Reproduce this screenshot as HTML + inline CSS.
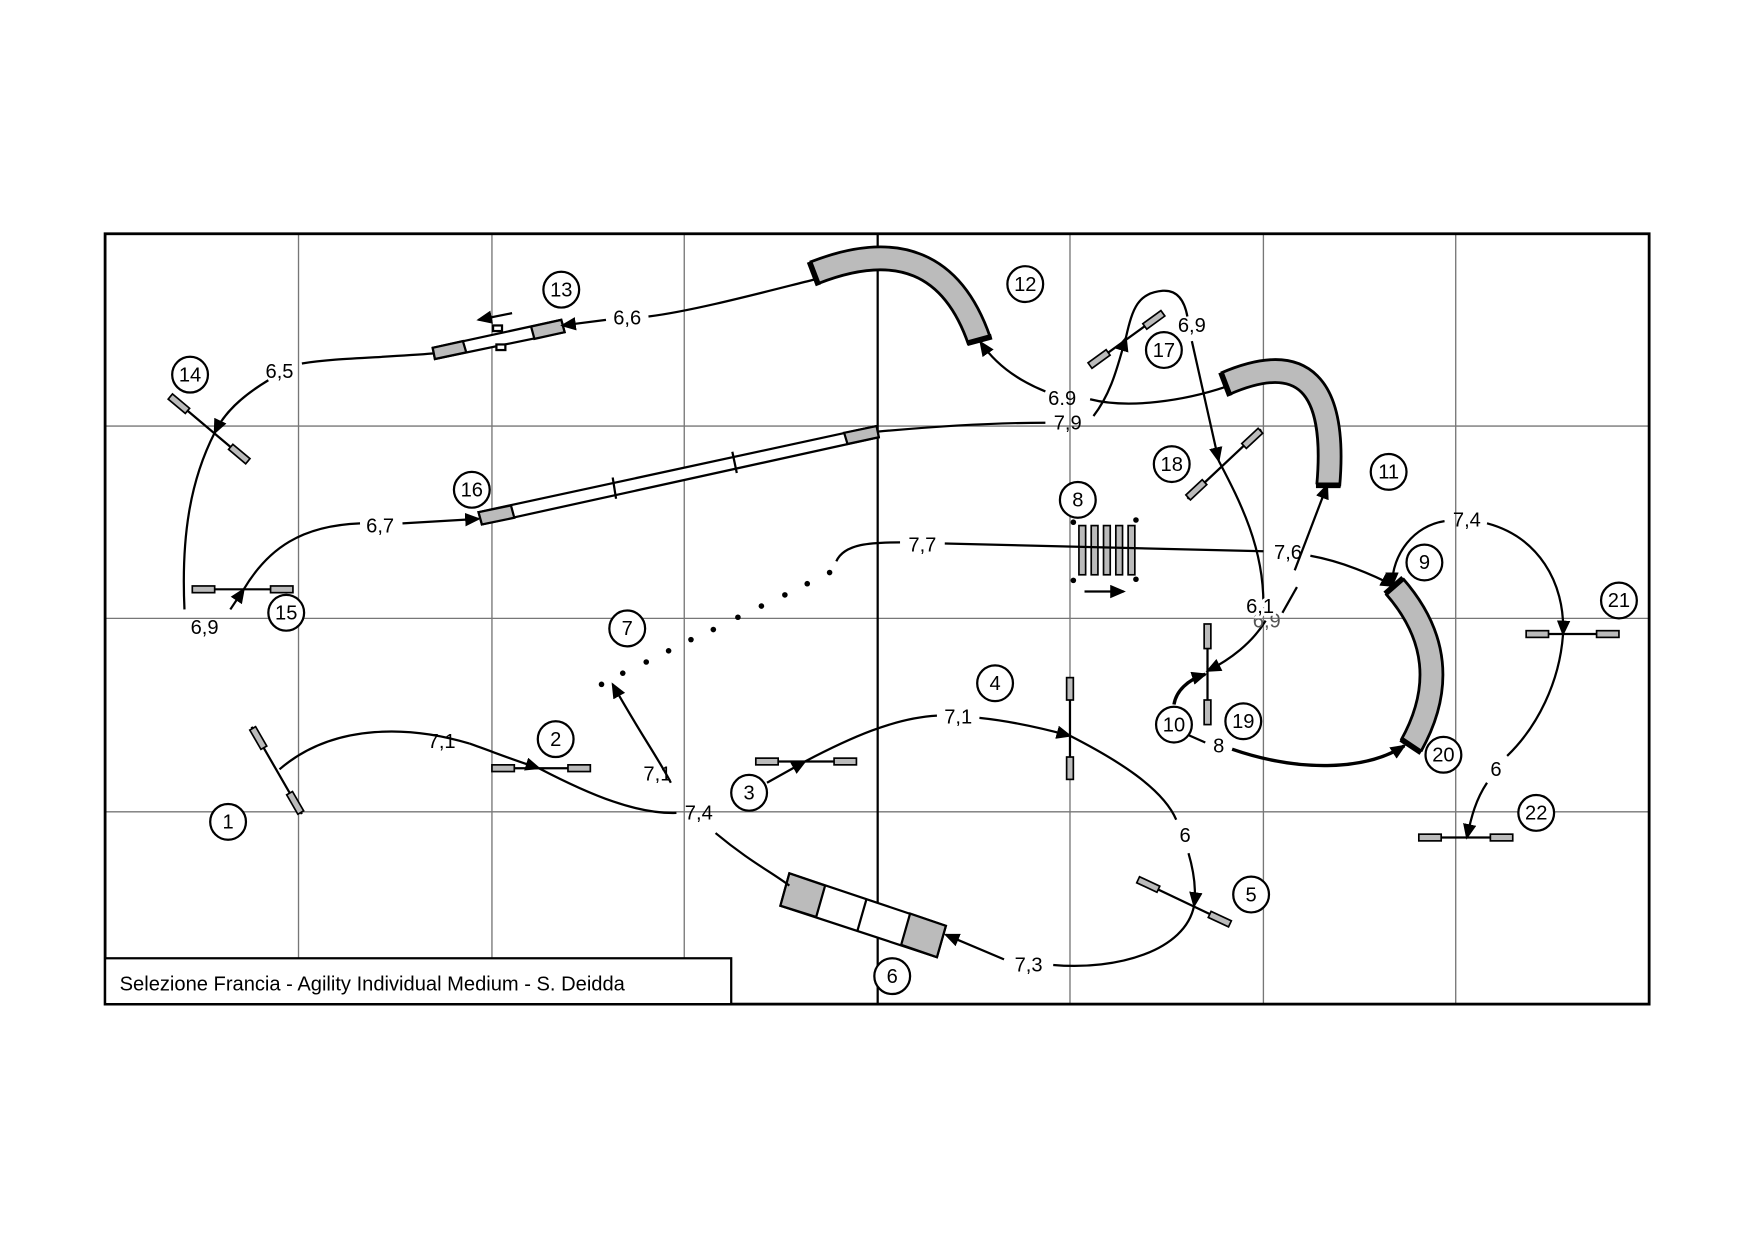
<!DOCTYPE html>
<html><head><meta charset="utf-8"><style>html,body{margin:0;padding:0;background:#fff}svg{display:block}</style></head><body>
<svg width="1752" height="1239" viewBox="0 0 1567 1108" xmlns="http://www.w3.org/2000/svg" font-family="Liberation Sans, sans-serif">
<defs>
<marker id="a" markerUnits="userSpaceOnUse" markerWidth="14" markerHeight="12" refX="12" refY="6" orient="auto"><path d="M0,0 L14,6 L0,12 z" fill="#000"/></marker>
</defs>
<rect width="1567" height="1108" fill="#fff"/>
<g stroke="#777" stroke-width="1.2">
<line x1="267" y1="209" x2="267" y2="898"/><line x1="440" y1="209" x2="440" y2="898"/><line x1="612" y1="209" x2="612" y2="898"/>
<line x1="957" y1="209" x2="957" y2="898"/><line x1="1130" y1="209" x2="1130" y2="898"/><line x1="1302" y1="209" x2="1302" y2="898"/>
<line x1="94" y1="381" x2="1475" y2="381"/><line x1="94" y1="553" x2="1475" y2="553"/><line x1="94" y1="726" x2="1475" y2="726"/>
</g>
<line x1="785" y1="209" x2="785" y2="898" stroke="#000" stroke-width="2"/>
<rect x="94" y="209" width="1381" height="689" fill="none" stroke="#000" stroke-width="2.5"/>
<rect x="94" y="857" width="560" height="41" fill="#fff" stroke="#000" stroke-width="2"/>
<text x="107" y="886" font-size="18">Selezione Francia  - Agility Individual Medium - S. Deidda</text>

<!-- tunnels -->
<g fill="none" stroke-linecap="butt">
<path id="t12" d="M728,244 Q840,200 876,305" stroke="#000" stroke-width="23"/>
<path d="M728,244 Q840,200 876,305" stroke="#bbb" stroke-width="18" transform="translate(0,0)" stroke-dasharray="1000" stroke-dashoffset="0"/>
<path d="M1096,343 Q1200,298 1188,434" stroke="#000" stroke-width="23"/>
<path d="M1096,343 Q1200,298 1188,434" stroke="#bbb" stroke-width="18"/>
<path d="M1247,524 Q1305,590 1262,667" stroke="#000" stroke-width="23"/>
<path d="M1247,524 Q1305,590 1262,667" stroke="#bbb" stroke-width="18"/>
</g>
<g stroke="#000" stroke-width="5">
<line x1="724" y1="234" x2="732" y2="255"/><line x1="865" y1="307" x2="887" y2="301"/>
<line x1="1092" y1="333" x2="1100" y2="354"/><line x1="1177" y1="434" x2="1199" y2="434"/>
<line x1="1239" y1="531" x2="1255" y2="517"/><line x1="1253" y1="661" x2="1271" y2="673"/>
</g>

<!-- dogwalk 16 -->
<g stroke="#000" stroke-width="2">
<polygon points="428,458 784,381 786,391 431,469" fill="#fff"/>
<polygon points="428,458 457,452 460,463 431,469" fill="#bbb"/>
<polygon points="755,387 784,381 786,391 758,397" fill="#bbb"/>
<line x1="548" y1="427" x2="551" y2="446"/><line x1="655" y1="404" x2="659" y2="423"/>
<!-- seesaw 13 -->
<polygon points="387,311 502,286 505,297 389,321" fill="#fff"/>
<polygon points="387,311 414,305 417,315 389,321" fill="#bbb"/>
<polygon points="475,292 502,286 505,297 478,303" fill="#bbb"/>
<rect x="441" y="291" width="8" height="5" fill="#fff"/><rect x="444" y="308" width="8" height="5" fill="#fff"/>
<!-- tire/wall 6 -->
<polygon points="706,781 846,828 838,856 698,810" fill="#fff"/>
<polygon points="706,781 738,792 730,820 698,810" fill="#bbb"/>
<polygon points="814,817 846,828 838,856 806,845" fill="#bbb"/>
<line x1="775" y1="804" x2="767" y2="832"/>
</g>
<!-- weave 8 -->
<g stroke="#000" stroke-width="1.5" fill="#bbb">
<rect x="965" y="470" width="6" height="44"/><rect x="976" y="470" width="6" height="44"/><rect x="987" y="470" width="6" height="44"/><rect x="998" y="470" width="6" height="44"/><rect x="1009" y="470" width="6" height="44"/>
</g>
<g fill="#000"><circle cx="960" cy="467" r="2.5"/><circle cx="1016" cy="465" r="2.5"/><circle cx="960" cy="519" r="2.5"/><circle cx="1016" cy="518" r="2.5"/></g>
<path d="M970,529 L1005,529" stroke="#000" stroke-width="2" marker-end="url(#a)"/>
<path d="M458,280 L428,286" stroke="#000" stroke-width="2" marker-end="url(#a)"/>
<!-- pipe 7 dots -->
<g fill="#000"><circle cx="538" cy="612" r="2.5"/><circle cx="557" cy="602" r="2.5"/><circle cx="578" cy="592" r="2.5"/><circle cx="598" cy="582" r="2.5"/><circle cx="618" cy="572" r="2.5"/><circle cx="638" cy="563" r="2.5"/><circle cx="660" cy="552" r="2.5"/><circle cx="681" cy="542" r="2.5"/><circle cx="702" cy="532" r="2.5"/><circle cx="722" cy="522" r="2.5"/><circle cx="742" cy="512" r="2.5"/></g>

<!-- jumps -->
<g stroke="#000" stroke-width="2">
<line x1="225" y1="650" x2="270" y2="728"/>
<line x1="440" y1="687" x2="528" y2="687"/>
<line x1="676" y1="681" x2="766" y2="681"/>
<line x1="957" y1="606" x2="957" y2="697"/>
<line x1="1018" y1="787" x2="1100" y2="826"/>
<line x1="152" y1="354" x2="222" y2="413"/>
<line x1="172" y1="527" x2="262" y2="527"/>
<line x1="975" y1="327" x2="1040" y2="280"/>
<line x1="1062" y1="446" x2="1128" y2="384"/>
<line x1="1080" y1="558" x2="1080" y2="648"/>
<line x1="1365" y1="567" x2="1448" y2="567"/>
<line x1="1269" y1="749" x2="1353" y2="749"/>
</g>
<g stroke="#000" stroke-width="1.5" fill="#bbb">
<rect x="-10" y="-3" width="20" height="6" transform="translate(231,660) rotate(60)"/>
<rect x="-10" y="-3" width="20" height="6" transform="translate(264,718) rotate(60)"/>
<rect x="440" y="684" width="20" height="6"/><rect x="508" y="684" width="20" height="6"/>
<rect x="676" y="678" width="20" height="6"/><rect x="746" y="678" width="20" height="6"/>
<rect x="954" y="606" width="6" height="20"/><rect x="954" y="677" width="6" height="20"/>
<rect x="-10" y="-3" width="20" height="6" transform="translate(1027,791) rotate(25)"/>
<rect x="-10" y="-3" width="20" height="6" transform="translate(1091,822) rotate(25)"/>
<rect x="-10" y="-3" width="20" height="6" transform="translate(160,361) rotate(40)"/>
<rect x="-10" y="-3" width="20" height="6" transform="translate(214,406) rotate(40)"/>
<rect x="172" y="524" width="20" height="6"/><rect x="242" y="524" width="20" height="6"/>
<rect x="-10" y="-3" width="20" height="6" transform="translate(983,321) rotate(-36)"/>
<rect x="-10" y="-3" width="20" height="6" transform="translate(1032,286) rotate(-36)"/>
<rect x="-10" y="-3" width="20" height="6" transform="translate(1070,438) rotate(-43)"/>
<rect x="-10" y="-3" width="20" height="6" transform="translate(1120,392) rotate(-43)"/>
<rect x="1077" y="558" width="6" height="22"/><rect x="1077" y="626" width="6" height="22"/>
<rect x="1365" y="564" width="20" height="6"/><rect x="1428" y="564" width="20" height="6"/>
<rect x="1269" y="746" width="20" height="6"/><rect x="1333" y="746" width="20" height="6"/>
</g>

<!-- paths -->
<g fill="none" stroke="#000" stroke-width="2">
<path d="M250,688 C300,645 370,650 420,665"/>
<path d="M420,665 C440,672 460,680 482,687" marker-end="url(#a)"/>
<path d="M482,687 C530,712 570,728 605,727"/>
<path d="M600,700 C590,680 572,655 548,612" marker-end="url(#a)"/>
<path d="M640,745 C670,770 690,780 706,792"/>
<path d="M686,700 L720,681" marker-end="url(#a)"/>
<path d="M720,681 C760,660 800,642 838,640"/>
<path d="M876,642 C905,645 935,652 957,658" marker-end="url(#a)"/>
<path d="M957,658 C1000,680 1040,705 1052,733"/>
<path d="M1063,763 C1068,780 1070,795 1068,810" marker-end="url(#a)"/>
<path d="M1068,810 C1060,850 1000,868 942,863"/>
<path d="M898,858 L846,836" marker-end="url(#a)"/>
<path d="M748,502 C755,486 780,485 805,485"/>
<path d="M845,486 L1130,493"/>
<path d="M1158,510 L1187,434" marker-end="url(#a)"/>
<path d="M1172,497 C1200,502 1228,514 1247,524" marker-end="url(#a)"/>
<path d="M1292,466 C1265,470 1245,495 1245,524" marker-end="url(#a)"/>
<path d="M1330,468 C1375,480 1400,520 1398,567" marker-end="url(#a)"/>
<path d="M1398,567 C1395,610 1375,650 1348,676"/>
<path d="M1330,700 C1320,715 1316,730 1312,749" marker-end="url(#a)"/>
<path d="M1132,555 C1120,575 1100,590 1080,600" marker-end="url(#a)"/>
<path d="M1050,630 C1052,618 1062,608 1078,603" stroke-width="3" marker-end="url(#a)"/>
<path d="M1062,657 L1078,664"/>
<path d="M1102,670 C1160,690 1220,690 1256,667" stroke-width="3" marker-end="url(#a)"/>
<path d="M1066,305 L1090,412" marker-end="url(#a)"/>
<path d="M1090,412 C1110,450 1130,490 1130,540"/>
<path d="M1147,548 L1160,525"/>
<path d="M978,372 C995,350 1000,325 1007,302" marker-end="url(#a)"/>
<path d="M1007,302 C1013,275 1018,262 1040,260 C1055,259 1060,272 1062,283"/>
<path d="M935,350 C910,340 890,325 877,306" marker-end="url(#a)"/>
<path d="M975,357 C1010,366 1060,358 1096,346"/>
<path d="M785,386 C850,380 900,378 935,378"/>
<path d="M728,250 C680,262 620,278 580,283"/>
<path d="M542,286 L503,291" marker-end="url(#a)"/>
<path d="M388,316 C340,320 300,320 270,325"/>
<path d="M240,340 C215,355 200,370 192,387" marker-end="url(#a)"/>
<path d="M192,387 C170,430 162,480 165,545"/>
<path d="M206,545 L218,527" marker-end="url(#a)"/>
<path d="M218,527 C240,490 270,470 322,468"/>
<path d="M360,468 L428,464" marker-end="url(#a)"/>
</g>

<!-- edge labels -->
<g font-size="18" text-anchor="middle" fill="#000">
<text x="395" y="669">7,1</text><text x="588" y="698">7,1</text><text x="625" y="733">7,4</text>
<text x="857" y="647">7,1</text><text x="1060" y="753">6</text><text x="920" y="869">7,3</text>
<text x="825" y="493">7,7</text><text x="1152" y="500">7,6</text><text x="1312" y="471">7,4</text>
<text x="1338" y="694">6</text><text x="1090" y="673">8</text>
<text x="1133" y="561" fill="#555">6,9</text>
<text x="1127" y="548" stroke="#fff" stroke-width="5" paint-order="stroke">6,1</text>
<text x="1066" y="297">6,9</text><text x="950" y="362">6.9</text><text x="955" y="384">7,9</text>
<text x="561" y="290">6,6</text><text x="250" y="338">6,5</text><text x="183" y="567">6,9</text><text x="340" y="476">6,7</text>
</g>

<!-- numbered circles -->
<g font-size="18" text-anchor="middle">
<g fill="#fff" stroke="#000" stroke-width="2">
<circle cx="204" cy="735" r="16"/><circle cx="497" cy="661" r="16"/><circle cx="670" cy="709" r="16"/><circle cx="890" cy="611" r="16"/>
<circle cx="1119" cy="800" r="16"/><circle cx="798" cy="873" r="16"/><circle cx="561" cy="562" r="16"/><circle cx="964" cy="447" r="16"/>
<circle cx="1274" cy="503" r="16"/><circle cx="1050" cy="648" r="16"/><circle cx="1242" cy="422" r="16"/><circle cx="917" cy="254" r="16"/>
<circle cx="502" cy="259" r="16"/><circle cx="170" cy="335" r="16"/><circle cx="256" cy="548" r="16"/><circle cx="422" cy="438" r="16"/>
<circle cx="1041" cy="313" r="16"/><circle cx="1048" cy="415" r="16"/><circle cx="1112" cy="645" r="16"/><circle cx="1291" cy="675" r="16"/>
<circle cx="1448" cy="537" r="16"/><circle cx="1374" cy="727" r="16"/>
</g>
<text x="204" y="741">1</text><text x="497" y="667">2</text><text x="670" y="715">3</text><text x="890" y="617">4</text>
<text x="1119" y="806">5</text><text x="798" y="879">6</text><text x="561" y="568">7</text><text x="964" y="453">8</text>
<text x="1274" y="509">9</text><text x="1050" y="654">10</text><text x="1242" y="428">11</text><text x="917" y="260">12</text>
<text x="502" y="265">13</text><text x="170" y="341">14</text><text x="256" y="554">15</text><text x="422" y="444">16</text>
<text x="1041" y="319">17</text><text x="1048" y="421">18</text><text x="1112" y="651">19</text><text x="1291" y="681">20</text>
<text x="1448" y="543">21</text><text x="1374" y="733">22</text>
</g>
</svg>
</body></html>
